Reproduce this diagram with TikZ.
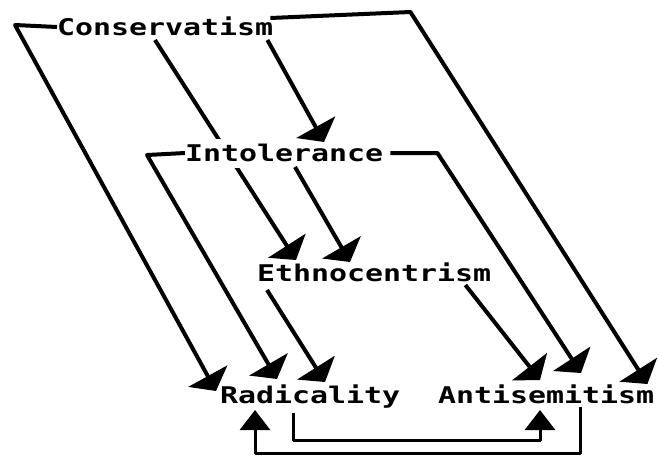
\documentclass[tikz,border=0pt]{standalone}
\usepackage{fontspec}
\newfontfamily\dotfont{DejaVu Sans Mono}[FakeStretch=1.3]
\usetikzlibrary{arrows.meta, calc, backgrounds}

\begin{document}
\begin{tikzpicture}[x=1pt, y=-1pt, line join=round,
  concept/.style={font=\dotfont\bfseries\fontsize{23}{23}\selectfont, anchor=west,
    inner sep=0pt, text height=17pt, text depth=0pt},
  causal/.style={-{Triangle[width=44pt,length=17pt]}, line width=4pt},
  feedback/.style={-{Triangle[width=30pt,length=20pt]}, line width=3pt}]
\useasboundingbox (0,0) rectangle (658,459);

\node[concept] (cons) at (57,27) {Conservatism};
\node[concept, fill=white, inner ysep=6pt] (intol) at (185,153) {Intolerance};
\node[concept] (ethno) at (257,273) {Ethnocentrism};
\node[concept] (radic) at (220,395) {Radicality};
\node[concept] (antis) at (438,395) {Antisemitism};

\begin{scope}[on background layer]
\draw[causal] ($(cons.west)+(98,13)$) -- ($(ethno.west)+(39,-13)$);
\end{scope}

\draw[causal] (cons.west) -- ++(-42,-2) -- ($(radic.west)+(-4,-4)$);
\draw[causal] ($(cons.east)+(-6,13)$) -- ($(intol.west)+(139,-11)$);
\draw[causal] ($(cons.east)+(-3,-9)$) -- ($(cons.east)+(137,-15)$) -- ($(antis.east)+(-7,-11)$);

\draw[causal] (intol.west) -- ++(-38,2) -- ($(radic.west)+(57,-16)$);
\draw[causal] ($(intol.west)+(110,14)$) -- ($(ethno.west)+(93,-11)$);
\draw[causal] ($(intol.east)+(7,0)$) -- ++(47,0) -- ($(antis.west)+(143,-22)$);

\draw[causal] ($(ethno.west)+(10,17)$) -- ($(radic.west)+(105,-13)$);
\draw[causal] ($(ethno.east)+(-26,12)$) -- ($(antis.west)+(102,-15)$);

\draw[feedback] ($(radic.west)+(73,18)$) -- ++(0,27) -| ($(antis.west)+(102,15)$);
\draw[feedback] ($(antis.west)+(142,12)$) -- ++(0,46) -| ($(radic.west)+(35,15)$);
\end{tikzpicture}
\end{document}
